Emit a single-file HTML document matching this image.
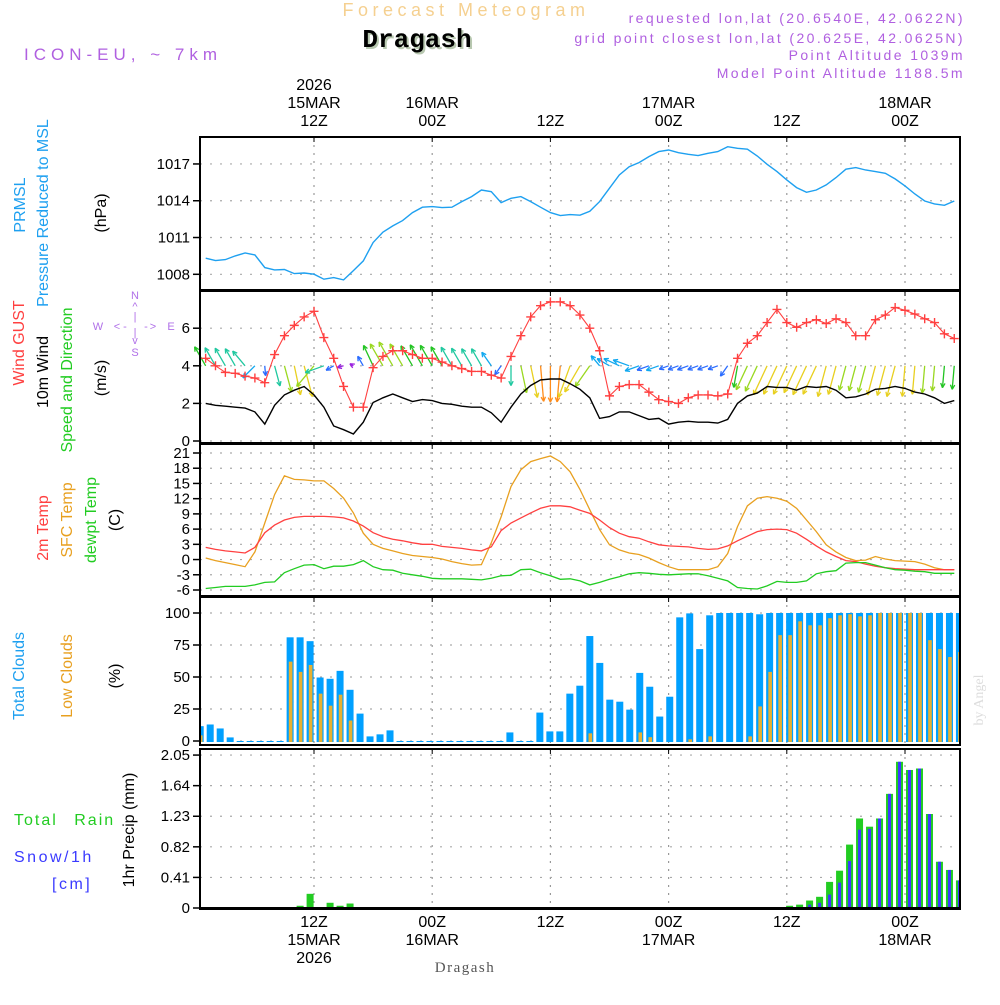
<!DOCTYPE html>
<html><head><meta charset="utf-8"><style>
body{margin:0;background:#fff;}
svg text{font-family:"Liberation Sans",sans-serif;}
</style></head><body>
<svg id="chart" width="1000" height="1000" viewBox="0 0 1000 1000" xmlns="http://www.w3.org/2000/svg">
<rect x="0" y="0" width="1000" height="1000" fill="#fff"/>
<g id="grid"></g>
<g id="marks"></g>
<g id="frames"></g>
<g id="labels"></g>
</svg>
<script>
// ---- data (hourly, starting at hour 1 = 01Z 15MAR) ----
const pressure = [1009.31,1009.12,1009.20,1009.50,1009.74,1009.58,1008.55,1008.36,1008.39,1008.06,1008.11,1008.01,1007.60,1007.73,1007.54,1008.30,1009.09,1010.59,1011.43,1011.95,1012.38,1013.03,1013.47,1013.52,1013.44,1013.47,1013.93,1014.34,1014.88,1014.74,1013.85,1014.20,1014.34,1013.93,1013.47,1013.03,1012.79,1012.87,1012.82,1013.14,1013.93,1015.02,1016.10,1016.78,1017.11,1017.60,1018.01,1018.14,1017.92,1017.79,1017.68,1017.87,1018.01,1018.41,1018.28,1018.20,1017.65,1016.97,1016.38,1015.70,1015.07,1014.69,1014.88,1015.29,1015.89,1016.57,1016.70,1016.51,1016.38,1016.24,1015.78,1015.21,1014.55,1013.98,1013.74,1013.63,1013.98];
const gust = [4.4,4.0,3.65,3.6,3.45,3.35,3.1,4.6,5.6,6.15,6.6,6.9,5.5,4.4,2.9,1.8,1.8,3.9,4.5,4.8,4.8,4.6,4.4,4.4,4.2,4.0,3.85,3.7,3.7,3.5,3.35,4.5,5.6,6.6,7.2,7.4,7.4,7.2,6.7,6.0,4.8,2.4,2.9,3.0,3.0,2.6,2.2,2.1,2.0,2.3,2.45,2.45,2.4,2.5,4.4,5.2,5.6,6.3,7.0,6.3,6.05,6.3,6.45,6.25,6.5,6.3,5.6,5.6,6.45,6.7,7.1,6.95,6.75,6.5,6.3,5.7,5.45];
const windSpeed = [2.0,1.9,1.85,1.8,1.75,1.55,0.9,1.9,2.45,2.7,2.9,2.45,1.8,0.8,0.6,0.37,1.0,2.05,2.3,2.5,2.3,2.1,2.2,2.15,2.0,1.95,1.85,1.8,1.8,1.5,1.0,1.8,2.5,2.95,3.25,3.3,3.3,3.05,2.75,2.3,1.2,1.3,1.55,1.55,1.35,1.15,1.2,0.9,1.0,1.05,1.0,1.0,0.95,1.15,2.0,2.4,2.55,2.9,2.85,2.85,2.7,2.9,2.85,2.9,2.7,2.3,2.35,2.5,2.75,2.8,2.9,2.8,2.6,2.5,2.3,2.0,2.15];
const windDir = [330,330,330,330,320,225,175,165,165,168,165,220,250,240,255,300,330,335,330,330,330,330,330,330,330,330,330,330,330,325,215,180,168,168,175,180,185,200,210,215,320,300,295,290,250,250,250,250,250,250,250,250,250,215,190,205,205,205,205,205,205,205,205,195,195,195,195,195,195,195,195,185,185,185,185,185,185];
const temp2m = [2.4,2.0,1.7,1.5,1.3,2.4,5.3,6.8,7.8,8.3,8.5,8.5,8.5,8.4,8.2,7.6,6.6,5.3,4.5,4.0,3.7,3.3,3.0,3.0,2.6,2.4,2.2,1.9,1.7,2.5,5.7,7.2,8.2,9.2,10.1,10.6,10.6,10.4,9.7,9.1,7.8,6.3,5.2,4.5,4.2,3.5,2.9,2.7,2.6,2.5,2.2,2.0,2.1,2.7,3.7,4.6,5.5,5.9,6.0,5.9,5.2,4.0,2.7,1.5,0.6,-0.2,-0.4,-0.9,-1.3,-1.6,-1.8,-1.9,-2.0,-2.0,-2.0,-2.0,-2.0];
const sfcTemp = [0.3,-0.2,-0.6,-1.0,-1.4,1.5,7.2,12.8,16.5,15.8,15.7,15.5,15.5,14.0,12.1,9.2,5.2,3.0,2.2,1.7,1.2,0.8,0.6,0.4,0.1,-0.4,-0.8,-1.1,-1.0,3.3,8.4,14.4,17.7,19.3,19.9,20.4,19.3,17.3,13.8,9.8,5.9,2.9,1.9,1.3,1.0,0.3,-0.6,-1.4,-2.0,-2.0,-2.0,-2.0,-1.4,1.2,6.5,10.6,12.1,12.4,12.1,11.5,10.1,7.8,5.5,2.9,1.5,0.4,-0.2,-0.1,0.6,0.1,-0.2,-0.3,-0.4,-0.9,-1.6,-2.0,-2.0];
const dewpt = [-5.7,-5.5,-5.3,-5.3,-5.3,-5.0,-4.5,-4.4,-2.6,-1.8,-1.1,-1.0,-1.8,-1.3,-1.3,-1.0,-0.2,-1.4,-2.0,-2.1,-2.7,-3.0,-3.3,-3.7,-3.8,-3.8,-3.8,-3.9,-4.0,-3.7,-3.2,-3.1,-2.0,-1.9,-2.6,-3.2,-3.9,-3.8,-4.2,-5.0,-4.5,-3.9,-3.4,-2.8,-2.6,-2.7,-2.9,-3.0,-2.9,-2.8,-2.8,-3.2,-3.7,-4.2,-5.5,-5.7,-5.8,-5.2,-4.3,-4.5,-4.5,-4.2,-2.8,-2.4,-2.2,-0.7,-0.6,-0.6,-1.1,-1.6,-2.0,-2.1,-2.3,-2.4,-2.7,-2.7,-2.7];
// bars start at hour 0
const totalClouds = [11.6,12.9,9.8,2.8,0,0,0,0,0,81,81,78,49.6,48.6,54.8,40,21.4,3.6,5.2,8.3,0,0,0,0,0,0,0,0,0,0,0,6.7,0,0,22.2,7.5,7.5,37,43.2,82,61,32.3,30.7,24.5,53.2,42.4,19.1,34.6,96.6,99.7,71.8,98.2,100,100,100,100,99,100,100,100,100,100,100,100,100,100,100,100,100,100,100,100,100,100,100,100,100];
const lowClouds = [4.4,0,0,0,0,0,0,0,0,62,54,59.4,37,27.6,36.2,16,0,0,0,0,0,0,0,0,0,0,0,0,0,0,0,0,0,0,0,0,0,0,0,6,0,0,0,0,6.7,3,0,0,0,1.3,0,3.6,0,0,0,3.6,27,54,82.7,82.7,93.5,90.4,90.4,95.9,98.2,99,97.4,98.2,100,100,100,100,100,78.8,71.8,65.6,69.5];
const rain = [0,0,0,0,0,0,0,0,0,0,0.03,0.19,0.01,0.07,0.03,0.06,0,0,0,0,0,0,0,0,0,0,0,0,0,0,0,0,0,0,0,0,0,0,0,0,0,0,0,0,0,0,0,0,0,0,0,0,0,0,0,0,0,0,0,0.03,0.045,0.1,0.15,0.35,0.5,0.85,1.2,1.09,1.2,1.53,1.96,1.85,1.87,1.26,0.62,0.51,0.37];
const snow = [0,0,0,0,0,0,0,0,0,0,0,0,0,0,0,0,0,0,0,0,0,0,0,0,0,0,0,0,0,0,0,0,0,0,0,0,0,0,0,0,0,0,0,0,0,0,0,0,0,0,0,0,0,0,0,0,0,0,0,0,0.01,0.045,0.07,0.18,0.34,0.63,1.05,1.06,1.2,1.53,1.96,1.85,1.87,1.26,0.62,0.51,0.37];
const pTicks = [1008,1011,1014,1017];
const wTicks = [0,2,4,6];
const tTicks = [-6,-3,0,3,6,9,12,15,18,21];
const cTicks = [0,25,50,75,100];
const rTicks = [0,0.41,0.82,1.23,1.64,2.05];
const gridHours = [12,24,36,48,60,72];
const topLabels = [["2026\n15MAR\n12Z",12],["16MAR\n00Z",24],["12Z",36],["17MAR\n00Z",48],["12Z",60],["18MAR\n00Z",72]];
const botLabels = [["12Z\n15MAR\n2026",12],["00Z\n16MAR",24],["12Z",36],["00Z\n17MAR",48],["12Z",60],["00Z\n18MAR",72]];

// ---- scales ----
const L=200,R=960;
const xs = h => 314 + (h-12)*9.85;
const bx = h => 206.7 + (h-1)*9.99;
const py = v => 274.3 - (v-1008)*12.26;
const wy = v => 441 - v*18.8;
const ty = v => 453 + (21-v)*5.074;
const cy = v => 741 - v*1.28;
const ry = v => 908 - v*74.6;
const P=[{t:137,b:290,s:py,ticks:pTicks,n:'pressure'},{t:291,b:443,s:wy,ticks:wTicks,n:'wind'},{t:444,b:596,s:ty,ticks:tTicks,n:'temperature'},{t:597,b:745,s:cy,ticks:cTicks,n:'clouds'},{t:749,b:909,s:ry,ticks:rTicks,n:'precip'}];
const NS='http://www.w3.org/2000/svg';
function mk(parent,tag,attrs){const e=document.createElementNS(NS,tag);for(const k in attrs)e.setAttribute(k,attrs[k]);parent.appendChild(e);return e;}
const G=document.getElementById('grid'),M=document.getElementById('marks'),F=document.getElementById('frames'),T=document.getElementById('labels');

P.forEach(p=>{
  gridHours.forEach(h=>{const l=mk(G,'line',{x1:xs(h),x2:xs(h),y1:p.t,y2:p.b,stroke:'#999','stroke-dasharray':'2,6','stroke-width':1.2});
    
    });
  p.ticks.forEach(v=>{const y=p.s(v);
    const l=mk(G,'line',{x1:L,x2:R,y1:y,y2:y,stroke:'#aaa','stroke-dasharray':'2,8','stroke-width':1.2});
    
    
    const tk=mk(F,'line',{x1:L-7,x2:L,y1:y,y2:y,stroke:'#000','stroke-width':1.5});
    
    
    const tx=mk(T,'text',{x:L-10,y:y+5,'text-anchor':'end','font-size':15,fill:'#000'});tx.textContent=String(v);
    
    });
  const fr=mk(F,'rect',{x:L,y:p.t,width:R-L,height:p.b-p.t,fill:'none',stroke:'#000','stroke-width':2});
  
  
  gridHours.forEach(h=>{mk(F,'line',{x1:xs(h),x2:xs(h),y1:p.t,y2:p.t+5,stroke:'#000'});});
});

function line(arr,sx,sy,color,name,w){const d=arr.map((v,i)=>(i?'L':'M')+sx(i+1).toFixed(1)+','+sy(v).toFixed(1)).join('');
  const e=mk(M,'path',{d:d,fill:'none',stroke:color,'stroke-width':w||1.3});
  
  return e;}

const defs=mk(M,'defs',{});const cp=mk(defs,'clipPath',{id:'plotclip'});mk(cp,'rect',{x:L,y:0,width:R-L,height:1000});
const BG=mk(M,'g',{'clip-path':'url(#plotclip)'});



line(pressure,xs,py,'#1ea0f0','pressure-line',1.4);

function spdColor(s){if(s<0.8)return'#9a20e0';if(s<1.2)return'#2a6cff';if(s<1.6)return'#10a8f0';if(s<2.0)return'#20c8a0';if(s<2.3)return'#22c422';if(s<2.6)return'#9ad820';if(s<3.1)return'#e8d020';return'#ff8c1a';}
windDir.forEach((d,i)=>{const s=windSpeed[i],x0=xs(i+1),y0=wy(4),len=11*s,a=d*Math.PI/180;
  const x1=x0+len*Math.sin(a),y1=y0-len*Math.cos(a);const c=spdColor(s);
  const g=mk(M,'g',{stroke:c,'stroke-width':1.3,fill:'none'});
  
  
  mk(g,'line',{x1:x0,y1:y0,x2:x1,y2:y1});
  [a+Math.PI-0.45,a+Math.PI+0.45].forEach(b=>mk(g,'line',{x1:x1,y1:y1,x2:x1+5*Math.sin(b),y2:y1-5*Math.cos(b)}));
});
line(windSpeed,xs,wy,'#000','wind-speed-line',1.4);
line(gust,xs,wy,'#ff4040','wind-gust-line',1.1);
gust.forEach((v,i)=>{const x=xs(i+1),y=wy(v);const g=mk(M,'path',{d:`M${x-4.5},${y}H${x+4.5}M${x},${y-4.5}V${y+4.5}`,stroke:'#ff4040','stroke-width':1.4});
  
  });

line(sfcTemp,xs,ty,'#e8a020','sfc-temp-line',1.3);
line(temp2m,xs,ty,'#ff4040','2m-temp-line',1.3);
line(dewpt,xs,ty,'#22cc22','dewpoint-line',1.3);

totalClouds.forEach((v,i)=>{const x=bx(i);
  const r=mk(BG,'rect',{x:x,y:cy(v),width:7,height:cy(0)-cy(v)+1,fill:'#00a0ff'});
  
  
  const lv=lowClouds[i];if(lv>0){const o=mk(BG,'rect',{x:x+2.2,y:cy(lv),width:3.6,height:cy(0)-cy(lv)+1,fill:'#e8b030'});
  
  }
});
rain.forEach((v,i)=>{if(v<=0)return;const x=bx(i);
  const r=mk(BG,'rect',{x:x,y:ry(v),width:7,height:ry(0)-ry(v),fill:'#22cc22'});
  
  
  const sv=snow[i];if(sv>0){const b=mk(BG,'rect',{x:x+2,y:ry(sv),width:3,height:ry(0)-ry(sv),fill:'#3a3aff'});
  
  }
});
mk(M,'line',{x1:L,x2:R,y1:908,y2:908,stroke:'#000','stroke-width':2});

function txt(s,x,y,o,name){const e=mk(T,'text',Object.assign({x:x,y:y},o));e.textContent=s;
  
  return e;}
topLabels.forEach(([s,h])=>{const parts=s.split('\n');parts.forEach((p,k)=>{txt(p,xs(h),126-(parts.length-1-k)*18,{'text-anchor':'middle','font-size':16,fill:'#000'},'top-time-label');});});
botLabels.forEach(([s,h])=>{s.split('\n').forEach((p,k)=>{txt(p,xs(h),927+k*18,{'text-anchor':'middle','font-size':16,fill:'#000'},'bottom-time-label');});});

function vtxt(s,x,y,c,fs,name){const e=mk(T,'text',{x:0,y:0,transform:`translate(${x},${y}) rotate(-90)`,'text-anchor':'middle','font-size':fs||16,fill:c});e.textContent=s;
  
  }
vtxt('PRMSL',25,205,'#1ea0f0',16,'prmsl-label');
vtxt('Pressure Reduced to MSL',48,213,'#1ea0f0',16,'pressure-axis-title');
vtxt('(hPa)',106,213,'#000',16,'pressure-unit');
vtxt('Wind GUST',24,343,'#ff4040',16,'gust-axis-title');
vtxt('10m Wind',48,372,'#000',16,'wind-axis-title');
vtxt('Speed and Direction',72,380,'#22cc22',16,'wind-axis-subtitle');
vtxt('(m/s)',106,378,'#000',16,'wind-unit');
vtxt('2m Temp',48,528,'#ff4040',16,'temp2m-axis-title');
vtxt('SFC Temp',72,520,'#e8a020',16,'sfc-temp-axis-title');
vtxt('dewpt Temp',96,520,'#22cc22',16,'dewpt-axis-title');
vtxt('(C)',120,520,'#000',16,'temp-unit');
vtxt('Total Clouds',24,676,'#1ea0f0',16,'total-clouds-title');
vtxt('Low Clouds',72,676,'#e8a020',16,'low-clouds-title');
vtxt('(%)',120,676,'#000',16,'clouds-unit');
vtxt('1hr Precip (mm)',134,830,'#000',16,'precip-axis-title');
txt('Total  Rain',14,825,{'font-size':16,fill:'#22cc22','letter-spacing':'2','word-spacing':'10'},'rain-legend');
txt('Snow/1h',14,862,{'font-size':16,fill:'#3a3aff','letter-spacing':'2.5'},'snow-legend');
txt('[cm]',52,889,{'font-size':16,fill:'#3a3aff','letter-spacing':'2.5'},'snow-unit');
const cg=mk(T,'g',{fill:'#b070e8','font-size':11,'text-anchor':'middle'});


[['N',135,299],['^',135,310],['|',135,320],['|',135,336],['v',135,344],['S',135,356],['W',98,330],['<',117,330],['-',125,330],['-',146,330],['>',153,330],['E',171,330]].forEach(([s,x,y])=>{const e=mk(cg,'text',{x:x,y:y});e.textContent=s;});
txt('Forecast Meteogram',466,16,{'text-anchor':'middle','font-size':18,fill:'#f5d090','letter-spacing':'4.5'},'chart-supertitle');
txt('Dragash',419,49,{'text-anchor':'middle','font-size':26,'font-weight':'bold',fill:'#b8c8b0',style:'font-family:"Liberation Mono",monospace'},'title-shadow');
txt('Dragash',417,47,{'text-anchor':'middle','font-size':26,'font-weight':'bold',fill:'#000',style:'font-family:"Liberation Mono",monospace'},'chart-title');
txt('ICON-EU, ~ 7km',24,60,{'font-size':17,fill:'#b060e0','letter-spacing':'5'},'model-label');
[['requested lon,lat (20.6540E, 42.0622N)',23],['grid point closest lon,lat (20.625E, 42.0625N)',43],['Point Altitude 1039m',60],['Model Point Altitude 1188.5m',78]].forEach(([s,y])=>txt(s,965,y,{'text-anchor':'end','font-size':14,fill:'#b060e0','letter-spacing':'2.4'},'location-info'));
txt('Dragash',465,972,{'text-anchor':'middle','font-size':15,fill:'#555',style:'font-family:"Liberation Serif",serif','letter-spacing':'1.5'},'footer-station');
const ba=mk(T,'text',{x:0,y:0,transform:'translate(983,700) rotate(-90)','text-anchor':'middle','font-size':14,fill:'#ddd',style:'font-family:"Liberation Serif",serif'});ba.textContent='by Angel';


</script>
</body></html>
